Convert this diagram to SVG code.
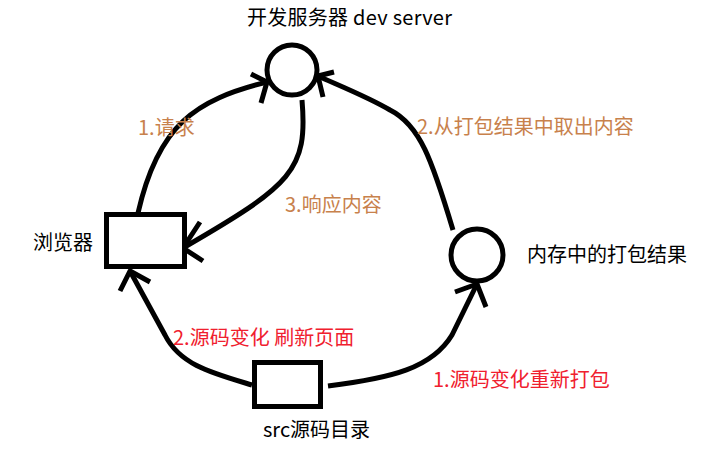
<svg xmlns="http://www.w3.org/2000/svg" width="702" height="473" viewBox="0 0 702 473">
<style>
.shape{fill:#fff;stroke:#000;stroke-width:5}
.line{fill:none;stroke:#000;stroke-width:5;stroke-linejoin:round}
text{font-family:"Noto Sans CJK SC","Microsoft YaHei",sans-serif;font-size:20px}
.k{fill:#000}
.o{fill:#c8814c}
.r{fill:#f0202e}
</style>
<rect width="702" height="473" fill="#fff"/>
<g id="connectors">
<path class="line" d="M138,213 C158,125 195,100 267,82"/>
<path class="line" d="M251,74 L267,82 L261,103"/>
<path class="line" d="M302,100 C308,170 292,185 183,248"/>
<path class="line" d="M200,222 L183,248 L203,261"/>
<path class="line" d="M453,230 C432,160 420,125 390,110 C370,98 345,88 318,76"/>
<path class="line" d="M334,72 L318,76 L323,97"/>
<path class="line" d="M252,385 C212,373 180,365 165,335 L130,271"/>
<path class="line" d="M120,291 L130,271 L150,282"/>
<path class="line" d="M328,386 C392,378 432,368 452,335 L477,284"/>
<path class="line" d="M455,292 L477,284 L486,307"/>
</g>
<g id="devserver">
<circle class="shape" cx="292" cy="70" r="25"/>
<text class="k" x="247" y="25" textLength="205">开发服务器 dev server</text>
</g>
<g id="memory">
<circle class="shape" cx="477" cy="255" r="26"/>
<text class="k" x="527" y="262">内存中的打包结果</text>
</g>
<g id="browser">
<rect class="shape" x="106.5" y="214.5" width="78" height="52"/>
<text class="k" x="33" y="250">浏览器</text>
</g>
<g id="src">
<rect class="shape" x="254.5" y="362.5" width="66" height="44"/>
<text class="k" x="263" y="437">src源码目录</text>
</g>
<g id="labels">
<text class="o" x="138" y="135">1.请求</text>
<text class="o" x="285" y="212">3.响应内容</text>
<text class="o" x="417" y="134">2.从打包结果中取出内容</text>
<text class="r" x="433" y="387">1.源码变化重新打包</text>
<text class="r" x="173" y="345">2.源码变化 刷新页面</text>
</g>
</svg>
